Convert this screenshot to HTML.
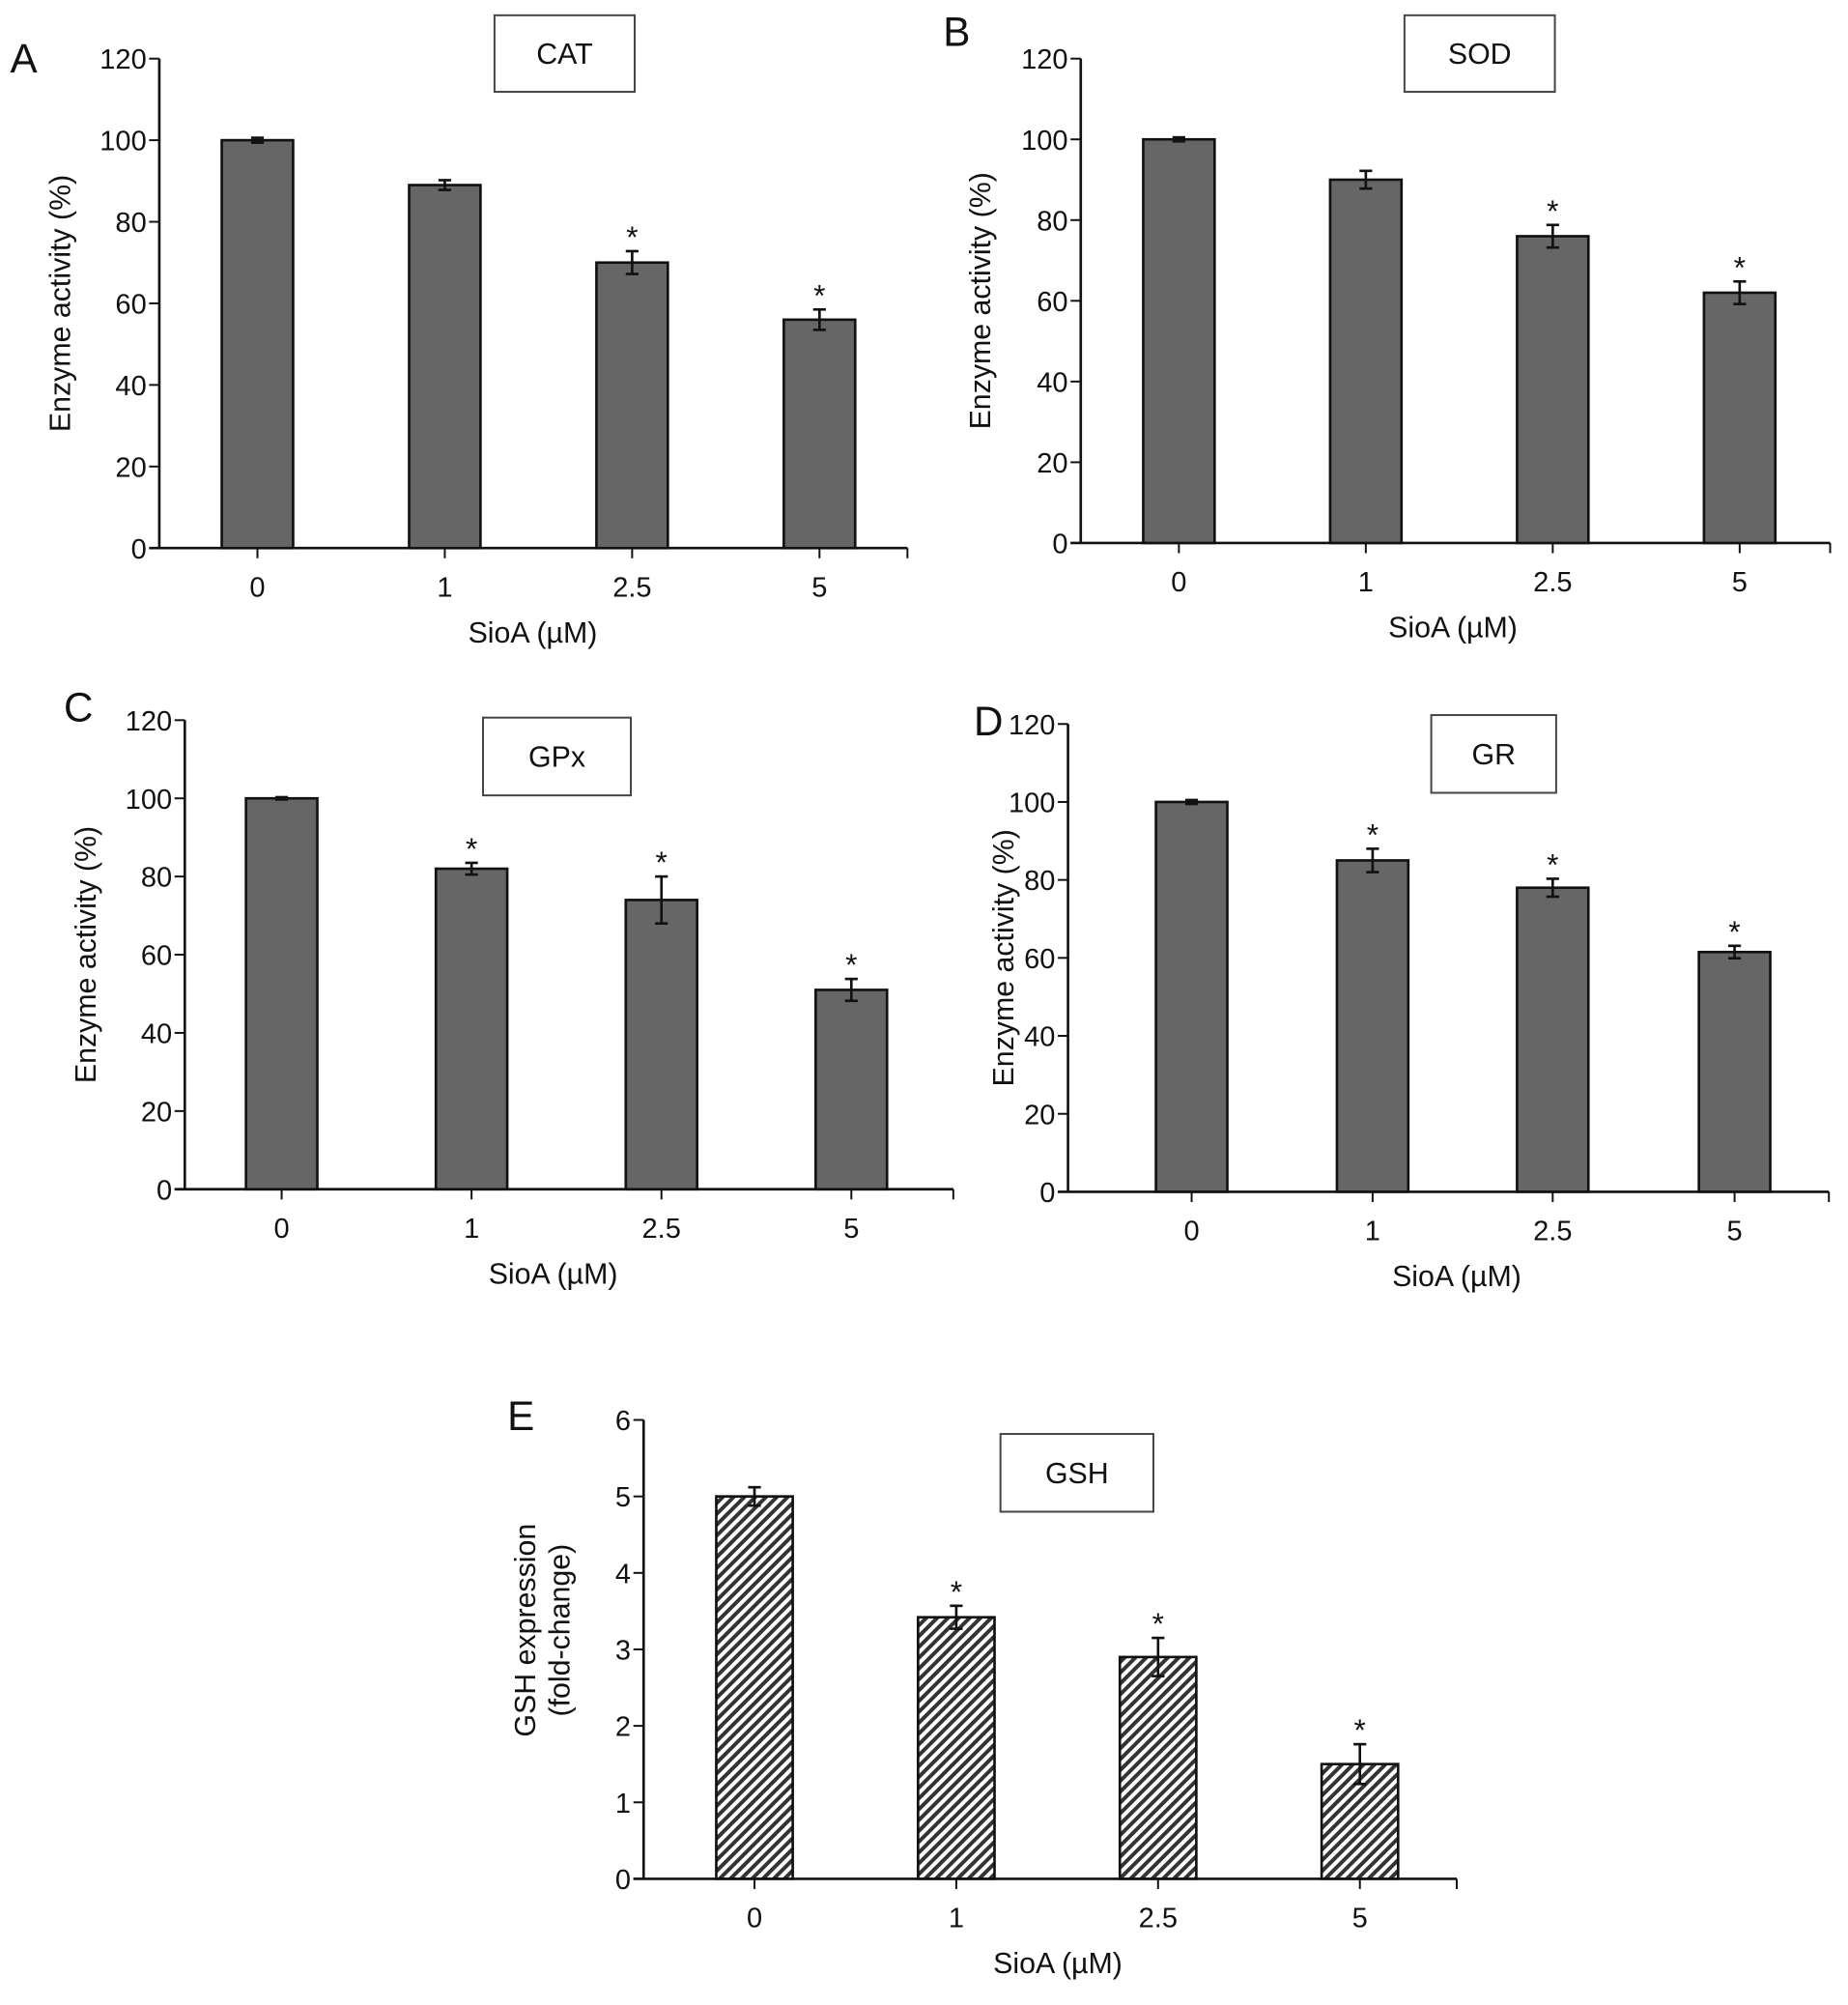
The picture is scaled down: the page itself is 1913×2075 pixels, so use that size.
<!DOCTYPE html>
<html><head><meta charset="utf-8"><style>
html,body{margin:0;padding:0;background:#fff;}
svg{display:block;}
text{font-family:"Liberation Sans",sans-serif;fill:#111;}
</style></head><body>
<svg id="fig" width="1913" height="2075" viewBox="0 0 1450 1573" preserveAspectRatio="none" xmlns="http://www.w3.org/2000/svg">
<defs>
<pattern id="hatch" patternUnits="userSpaceOnUse" width="6" height="6" patternTransform="rotate(45)">
<rect width="6" height="6" fill="#fff"/><rect width="3" height="6" fill="#333"/>
</pattern>
</defs>
</svg>
<script>
const categories = ["0","1","2.5","5"];
const catValues = [100, 89, 70, 56];
const catErrors = [0.6, 1.2, 2.8, 2.5];
const catStars = [false, false, true, true];
const sodValues = [100, 90, 76, 62];
const sodErrors = [0.5, 2.2, 2.8, 2.8];
const sodStars = [false, false, true, true];
const gpxValues = [100, 82, 74, 51];
const gpxErrors = [0.3, 1.5, 6, 2.8];
const gpxStars = [false, true, true, true];
const grValues = [100, 85, 78, 61.5];
const grErrors = [0.5, 3, 2.3, 1.6];
const grStars = [false, true, true, true];
const gshValues = [5, 3.42, 2.9, 1.5];
const gshErrors = [0.12, 0.15, 0.25, 0.26];
const gshStars = [false, true, true, true];
const enzymeTicks = [0,20,40,60,80,100,120];
const gshTicks = [0,1,2,3,4,5,6];

const svg = document.getElementById('fig');
const NS = 'http://www.w3.org/2000/svg';
function mk(tag, attrs, parent){
  const e = document.createElementNS(NS, tag);
  for (const k in attrs) e.setAttribute(k, attrs[k]);
  (parent||svg).appendChild(e);
  return e;
}

function panel(cfg){
  const g = mk('g', {});
  
  
  const ymax = cfg.ticks[cfg.ticks.length-1];
  const yS = v => cfg.y0 - (v/ymax)*(cfg.y0 - cfg.ytop);
  const xS = i => cfg.cx[0] + i*(cfg.cx[3]-cfg.cx[0])/3 + (cfg.cxAdj ? cfg.cxAdj[i] : 0);
  const ya = mk('line', {x1:cfg.ax, y1:cfg.ytop, x2:cfg.ax, y2:cfg.y0, stroke:'#111','stroke-width':2}, g);
  
  
  const xa = mk('line', {x1:cfg.ax-8, y1:cfg.y0, x2:cfg.xend, y2:cfg.y0, stroke:'#111','stroke-width':2}, g);
  
  
  mk('line', {x1:cfg.xend, y1:cfg.y0, x2:cfg.xend, y2:cfg.y0+8, stroke:'#111','stroke-width':1.5}, g);
  cfg.ticks.forEach(t => {
    const y = yS(t);
    mk('line', {x1:cfg.ax-8, y1:y, x2:cfg.ax, y2:y, stroke:'#111','stroke-width':1.5}, g);
    const tl = mk('text', {x:cfg.ax-10, y:y+8, 'font-size':22, 'text-anchor':'end'}, g);
    tl.textContent = t;
    
    
  });
  categories.forEach((c, i) => {
    const x = xS(i);
    mk('line', {x1:x, y1:cfg.y0, x2:x, y2:cfg.y0+8, stroke:'#111','stroke-width':1.5}, g);
    const xl = mk('text', {x:x, y:cfg.y0+38, 'font-size':22, 'text-anchor':'middle'}, g);
    xl.textContent = c;
    
    
    const v = cfg.values[i], e = cfg.errors[i];
    const top = yS(v);
    const bar = mk('rect', {x:x-cfg.bw/2, y:top, width:cfg.bw, height:cfg.y0-top, fill:cfg.fill, stroke:'#111','stroke-width':2}, g);
    
    
    const eh = yS(v+e), el = yS(v-e);
    mk('line', {x1:x, y1:eh, x2:x, y2:el, stroke:'#111','stroke-width':2}, g);
    mk('line', {x1:x-5, y1:eh, x2:x+5, y2:eh, stroke:'#111','stroke-width':2}, g);
    mk('line', {x1:x-5, y1:el, x2:x+5, y2:el, stroke:'#111','stroke-width':2}, g);
    if (cfg.stars[i]) {
      const s = mk('text', {x:x, y:eh-3, 'font-size':24, 'text-anchor':'middle', fill:'#555'}, g);
      s.textContent = '*';
      
      
    }
  });
  const xt = mk('text', {x:cfg.xtx, y:cfg.y0+74, 'font-size':23, 'text-anchor':'middle'}, g);
  xt.textContent = 'SioA (\u00b5M)';
  
  
  const ymid = (cfg.y0 + cfg.ytop)/2 + (cfg.ytOff||0);
  cfg.ytitle.forEach((line, k) => {
    const yt = mk('text', {x:0, y:0, 'font-size':23, 'text-anchor':'middle', transform:`translate(${cfg.ytx + k*27},${ymid}) rotate(-90)`}, g);
    yt.textContent = line;
    
    
  });
  const box = mk('rect', {x:cfg.box[0], y:cfg.box[1], width:cfg.box[2], height:cfg.box[3], fill:'#fff', stroke:'#444','stroke-width':1.5}, g);
  
  
  const bt = mk('text', {x:cfg.box[0]+cfg.box[2]/2, y:cfg.box[1]+cfg.box[3]/2+8, 'font-size':23, 'text-anchor':'middle'}, g);
  bt.textContent = cfg.title;
  
  
  const lt = mk('text', {x:cfg.letter[0], y:cfg.letter[1], 'font-size':32}, g);
  lt.textContent = cfg.key;
  
  
}

panel({key:'A', title:'CAT', values:catValues, errors:catErrors, stars:catStars, ticks:enzymeTicks,
  ax:125, y0:430, ytop:46, xend:712, cx:[202,348,497,643], bw:56, fill:'#666',
  xtx:418, ytx:55, ytitle:['Enzyme activity (%)'], box:[388,12,110,60], letter:[8,57]});
panel({key:'B', title:'SOD', values:sodValues, errors:sodErrors, stars:sodStars, ticks:enzymeTicks,
  ax:848, y0:426, ytop:46, xend:1436, cx:[925,1072,1218,1365], bw:56, fill:'#666',
  xtx:1140, ytx:777, ytitle:['Enzyme activity (%)'], box:[1102,12,118,60], letter:[740,36]});
panel({key:'C', title:'GPx', values:gpxValues, errors:gpxErrors, stars:gpxStars, ticks:enzymeTicks,
  ax:145, y0:933, ytop:565, xend:748, cx:[221,370,519,668], bw:56, fill:'#666',
  xtx:434, ytx:75, ytitle:['Enzyme activity (%)'], box:[379,563,116,61], letter:[50,566]});
panel({key:'D', title:'GR', values:grValues, errors:grErrors, stars:grStars, ticks:enzymeTicks,
  ax:838, y0:935, ytop:568, xend:1435, cx:[935,1078,1219,1361], cxAdj:[0,0,-0.7,0], bw:56, fill:'#666',
  xtx:1143, ytx:795, ytitle:['Enzyme activity (%)'], box:[1123,561,98,61], letter:[764,577]});
panel({key:'E', title:'GSH', values:gshValues, errors:gshErrors, stars:gshStars, ticks:gshTicks,
  ax:505, y0:1474, ytop:1114, xend:1143, cx:[592,750,908,1067], bw:60, fill:'url(#hatch)',
  xtx:830, ytx:420, ytitle:['GSH expression','(fold-change)'], box:[785,1125,120,61], letter:[398,1122], ytOff:-15});
</script>
</body></html>
